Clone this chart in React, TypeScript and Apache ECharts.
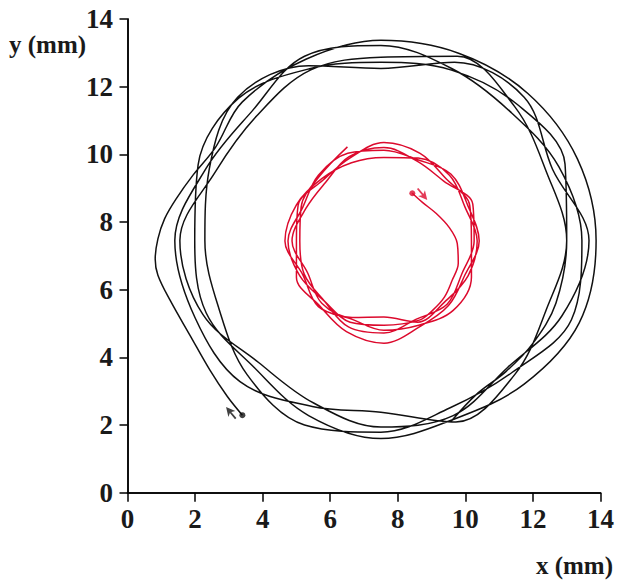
import React, { useEffect, useRef } from "react";
import * as echarts from "echarts";

const xTicks = [0, 2, 4, 6, 8, 10, 12, 14];
const yTicks = [0, 2, 4, 6, 8, 10, 12, 14];

// black trajectory (x mm, y mm), clockwise from start dot
const blackPath: [number, number][] = [
  [3.40, 2.29], [2.95, 2.85], [2.44, 3.62], [1.85, 4.65], [1.26, 5.69], [0.90, 6.43], [0.82, 6.90], [0.90, 7.50],
  [1.10, 8.10], [1.45, 8.70], [1.95, 9.40], [2.60, 10.20], [3.40, 11.55], [5.28, 12.81], [7.50, 13.37], [9.80, 12.99],
  [11.85, 11.80], [13.32, 9.86], [13.87, 7.45], [13.37, 5.02], [11.74, 3.21], [9.68, 2.18], [7.50, 1.60], [5.36, 2.28],
  [3.75, 3.70], [2.33, 5.31], [1.99, 7.45], [2.09, 9.69], [3.29, 11.66], [5.39, 12.53], [7.50, 12.72], [9.59, 12.49],
  [11.53, 11.48], [12.95, 9.71], [13.00, 7.45], [12.40, 5.42], [11.46, 3.49], [9.72, 2.09], [7.50, 2.38], [5.47, 2.55],
  [3.33, 3.28], [2.00, 5.17], [1.40, 7.45], [2.33, 9.59], [3.68, 11.27], [5.24, 12.90], [7.50, 13.22], [9.61, 12.53],
  [11.32, 11.27], [12.77, 9.63], [13.45, 7.45], [13.14, 5.11], [11.39, 3.56], [9.55, 2.51], [7.50, 1.79], [5.24, 2.00],
  [3.54, 3.49], [2.70, 5.46], [2.29, 7.45], [2.42, 9.56], [3.26, 11.69], [5.36, 12.62], [7.50, 12.54], [9.68, 12.72],
  [11.74, 11.69], [12.58, 9.56], [13.66, 7.45], [12.86, 5.23], [11.25, 3.70], [9.64, 2.28], [7.50, 1.94], [5.51, 2.65],
  [3.89, 3.84], [2.23, 5.27], [1.55, 7.45], [2.60, 9.48], [3.82, 11.13], [5.41, 12.49], [7.50, 12.87], [9.76, 12.90],
  [11.46, 11.41], [12.40, 9.48], [13.00, 7.45], [12.68, 5.60], [11.98, 4.39], [11.20, 3.58], [10.32, 2.90], [9.58, 2.11],
];

// red trajectory (x mm, y mm), spiral out from start dot then clockwise
const redPath: [number, number][] = [
  [8.43, 8.85], [8.73, 8.58], [9.14, 8.25], [9.52, 7.84], [9.76, 7.37], [9.79, 6.78], [9.61, 6.28], [9.38, 5.78],
  [9.03, 5.39], [8.64, 5.10],
  [7.59, 4.95], [6.59, 5.04], [5.82, 5.67], [5.10, 6.41], [4.75, 7.44], [5.19, 8.44], [5.65, 9.38], [6.52, 10.03],
  [7.59, 10.12], [8.59, 9.84], [9.57, 9.42], [10.08, 8.47], [10.41, 7.44], [9.99, 6.44], [9.50, 5.53], [8.64, 4.90],
  [7.59, 4.42], [6.48, 4.76], [5.68, 5.53], [5.00, 6.37], [5.00, 7.44], [5.05, 8.49], [5.79, 9.24], [6.58, 9.89],
  [7.59, 10.35], [8.66, 10.03], [9.43, 9.28], [10.13, 8.49], [10.18, 7.44], [10.18, 6.37], [9.64, 5.39], [8.62, 4.95],
  [7.59, 4.80], [6.63, 5.13], [5.65, 5.50], [5.19, 6.44], [4.66, 7.44], [5.00, 8.51], [5.75, 9.28], [6.63, 9.75],
  [7.59, 9.91], [8.60, 9.89], [9.53, 9.38], [9.99, 8.44], [10.35, 7.44], [10.08, 6.41], [9.39, 5.64], [8.59, 5.04],
  [7.59, 5.19], [6.65, 5.18], [5.75, 5.60], [5.33, 6.50], [4.87, 7.44], [5.28, 8.40], [5.86, 9.17], [6.56, 9.93],
  [7.59, 10.20], [8.57, 9.80], [9.36, 9.21], [10.22, 8.53], [10.26, 7.44], [9.90, 6.48], [9.46, 5.57], [8.55, 5.13],
  [7.59, 4.72], [6.54, 4.90], [5.82, 5.67], [5.23, 6.46], [5.10, 7.44], [5.14, 8.45], [5.68, 9.35], [6.51, 10.22],
];

const blackStart: [number, number] = [3.40, 2.29];
const redStart: [number, number] = [8.43, 8.85];
const blackArrow: [number, number] = [3.06, 2.36];
const redArrow: [number, number] = [8.73, 8.82];

const BLACK = "#111111";
const RED = "#dc0a2d";
const FONT = "Liberation Serif";
const ARROW = "path://M5 0 L10 9 L6 7 L6 15 L4 15 L4 7 L0 9 Z";

export default function App() {
  const ref = useRef<HTMLDivElement>(null);
  useEffect(() => {
    const chart = echarts.init(ref.current!, null, { renderer: "svg" });
    const labelStyle = {
      fontFamily: FONT,
      fontWeight: "bold" as const,
      fontSize: 27,
      color: "#1a1a1a",
    };
    chart.setOption({
      animation: false,
      backgroundColor: "#ffffff",
      grid: { left: 127.5, right: 15.5, top: 19, bottom: 89.3, containLabel: false },
      xAxis: [
        {
          type: "value",
          min: 0,
          max: 14,
          interval: 2,
          offset: 1.5,
          axisLine: { show: true, lineStyle: { color: "#000", width: 1.5 } },
          axisTick: { show: true, length: 9, lineStyle: { color: "#000", width: 1.5 } },
          axisLabel: { ...labelStyle, margin: 11, formatter: (v: number) => (xTicks.includes(v) ? String(v) : "") },
          splitLine: { show: false },
        },
        {
          type: "value",
          position: "top",
          min: 0,
          max: 14,
          axisLine: { show: true, lineStyle: { color: "#000", width: 1.5 } },
          axisTick: { show: false },
          axisLabel: { show: false },
          splitLine: { show: false },
        },
      ],
      yAxis: [
        {
          type: "value",
          min: 0,
          max: 14,
          interval: 2,
          offset: 2.5,
          axisLine: { show: true, lineStyle: { color: "#000", width: 1.5 } },
          axisTick: { show: true, length: 8, lineStyle: { color: "#000", width: 1.5 } },
          axisLabel: { ...labelStyle, margin: 12, formatter: (v: number) => (yTicks.includes(v) ? String(v) : "") },
          splitLine: { show: false },
        },
        {
          type: "value",
          position: "right",
          min: 0,
          max: 14,
          axisLine: { show: true, lineStyle: { color: "#000", width: 1.5 } },
          axisTick: { show: false },
          axisLabel: { show: false },
          splitLine: { show: false },
        },
      ],
      graphic: [
        {
          type: "text",
          left: 9,
          top: 32,
          style: { text: "y (mm)", font: `bold 25px "${FONT}"`, fill: "#1a1a1a" },
        },
        {
          type: "text",
          right: 4,
          top: 553,
          style: { text: "x (mm)", font: `bold 25px "${FONT}"`, fill: "#1a1a1a" },
        },
      ],
      series: [
        {
          type: "line",
          data: blackPath,
          smooth: 0.35,
          showSymbol: false,
          lineStyle: { color: BLACK, width: 1.5 },
          silent: true,
        },
        {
          type: "line",
          data: redPath,
          smooth: 0.35,
          showSymbol: false,
          lineStyle: { color: RED, width: 1.5 },
          silent: true,
        },
        {
          type: "scatter",
          data: [blackStart],
          symbol: "circle",
          symbolSize: 6,
          itemStyle: { color: BLACK },
          silent: true,
        },
        {
          type: "scatter",
          data: [redStart],
          symbol: "circle",
          symbolSize: 6,
          itemStyle: { color: RED },
          silent: true,
        },
        {
          type: "scatter",
          data: [blackArrow],
          symbol: ARROW,
          symbolSize: [9, 15],
          symbolRotate: 40,
          itemStyle: { color: BLACK },
          silent: true,
        },
        {
          type: "scatter",
          data: [redArrow],
          symbol: ARROW,
          symbolSize: [9, 15],
          symbolRotate: -140,
          itemStyle: { color: RED },
          silent: true,
        },
      ],
    });
    return () => chart.dispose();
  }, []);
  return <div ref={ref} style={{ position: "absolute", left: 0, top: 0, width: 617, height: 582 }} />;
}
